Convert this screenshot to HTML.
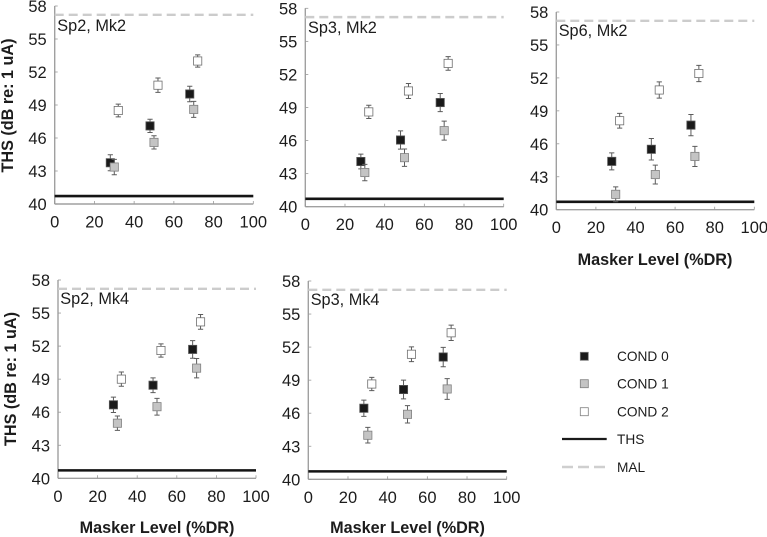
<!DOCTYPE html>
<html lang="en">
<head>
<meta charset="utf-8">
<title>THS vs Masker Level</title>
<style>
  html, body { margin: 0; padding: 0; background: #fff; }
  #figure { display: block; width: 767px; height: 537px; font-family: "Liberation Sans", Arial, sans-serif; filter: blur(0.35px); }
  .tick { font-size: 16.5px; fill: #1c1c1c; }
  .panel-label { font-size: 16.3px; fill: #1c1c1c; }
  .axis-title { font-size: 16.2px; font-weight: bold; fill: #1c1c1c; }
  .legend-text { font-size: 13.7px; fill: #1c1c1c; }
</style>
</head>
<body>
<svg id="figure" xmlns="http://www.w3.org/2000/svg" width="767" height="537" viewBox="0 0 767 537">
  <g id="panels"></g>

  <text class="axis-title" text-anchor="middle" transform="translate(13,105.5) rotate(-90)">THS (dB re: 1 uA)</text>
  <text class="axis-title" text-anchor="middle" transform="translate(16,379) rotate(-90)">THS (dB re: 1 uA)</text>
  <text class="axis-title" text-anchor="middle" x="655" y="265">Masker Level (%DR)</text>
  <text class="axis-title" text-anchor="middle" x="157" y="533">Masker Level (%DR)</text>
  <text class="axis-title" text-anchor="middle" x="407.5" y="533">Masker Level (%DR)</text>

  <g id="legend">
    <g>
      <rect x="580.3" y="352.3" width="8" height="8" fill="#1a1a1a" stroke="#777" stroke-width="0.8"></rect>
      <text class="legend-text" x="617" y="361">COND 0</text>
    </g>
    <g>
      <rect x="580.3" y="379.7" width="8" height="8" fill="#c4c4c4" stroke="#808080" stroke-width="0.8"></rect>
      <text class="legend-text" x="617" y="388.5">COND 1</text>
    </g>
    <g>
      <rect x="580.3" y="407.7" width="8" height="8" fill="#fff" stroke="#808080" stroke-width="0.8"></rect>
      <text class="legend-text" x="617" y="416.5">COND 2</text>
    </g>
    <g>
      <line x1="562" x2="606.7" y1="439" y2="439" stroke="#1a1a1a" stroke-width="2.2"></line>
      <text class="legend-text" x="617" y="444">THS</text>
    </g>
    <g>
      <line x1="562" x2="606.7" y1="467" y2="467" stroke="#cfcfcf" stroke-width="2.4" stroke-dasharray="11,5"></line>
      <text class="legend-text" x="617" y="472">MAL</text>
    </g>
  </g>
</svg>

<script>
// Shared axis data
const xTickValues = [0, 20, 40, 60, 80, 100];
const yTickValues = [40, 43, 46, 49, 52, 55, 58];
const yMin = 40;
const yMax = 58;
const xMin = 0;
const xMax = 100;

// Masker levels for each condition (%DR)
const cond0Levels = [28, 48, 68];
const cond1Levels = [30, 50, 70];
const cond2Levels = [32, 52, 72];

// Reference line values (dB)
const thsLevel = 40.72;
const malLevel = 57.2;

// Sp2, Mk2
const sp2mk2Cond0 = [43.75, 47.1, 50.0];
const sp2mk2Cond0Err = [0.73, 0.6, 0.7];
const sp2mk2Cond1 = [43.36, 45.6, 48.6];
const sp2mk2Cond1Err = [0.7, 0.6, 0.73];
const sp2mk2Cond2 = [48.5, 50.8, 53.0];
const sp2mk2Cond2Err = [0.58, 0.65, 0.56];

// Sp3, Mk2
const sp3mk2Cond0 = [44.1, 46.05, 49.45];
const sp3mk2Cond0Err = [0.67, 0.83, 0.82];
const sp3mk2Cond1 = [43.1, 44.45, 46.9];
const sp3mk2Cond1Err = [0.74, 0.79, 0.86];
const sp3mk2Cond2 = [48.6, 50.5, 53.0];
const sp3mk2Cond2Err = [0.6, 0.68, 0.62];

// Sp6, Mk2
const sp6mk2Cond0 = [44.4, 45.5, 47.7];
const sp6mk2Cond0Err = [0.77, 0.98, 0.97];
const sp6mk2Cond1 = [41.4, 43.2, 44.85];
const sp6mk2Cond1Err = [0.68, 0.86, 0.92];
const sp6mk2Cond2 = [48.1, 50.9, 52.4];
const sp6mk2Cond2Err = [0.67, 0.74, 0.74];

// Sp2, Mk4
const sp2mk4Cond0 = [46.67, 48.45, 51.7];
const sp2mk4Cond0Err = [0.7, 0.67, 0.8];
const sp2mk4Cond1 = [45.0, 46.5, 50.0];
const sp2mk4Cond1Err = [0.65, 0.76, 0.88];
const sp2mk4Cond2 = [49.0, 51.6, 54.2];
const sp2mk4Cond2Err = [0.65, 0.6, 0.67];

// Sp3, Mk4
const sp3mk4Cond0 = [46.45, 48.15, 51.1];
const sp3mk4Cond0Err = [0.74, 0.85, 0.88];
const sp3mk4Cond1 = [44.0, 45.9, 48.2];
const sp3mk4Cond1Err = [0.71, 0.79, 0.94];
const sp3mk4Cond2 = [48.65, 51.35, 53.3];
const sp3mk4Cond2Err = [0.6, 0.67, 0.7];

const SVG_NS = 'http://www.w3.org/2000/svg';
const panelsRoot = document.getElementById('panels');

function svgEl(tag, parent, attrs) {
  const el = document.createElementNS(SVG_NS, tag);
  for (const k in attrs) el.setAttribute(k, attrs[k]);
  parent.appendChild(el);
  return el;
}

function drawSeries(group, seriesName, levels, values, errs, xScale, yScale, fill, edge) {
  const halfMarker = 4.1;
  const halfCap = 2.6;
  values.forEach(function (value, i) {
    const px = xScale(levels[i]);
    const py = yScale(value);
    const top = yScale(value + errs[i]);
    const bottom = yScale(value - errs[i]);

    const errorBar = svgEl('path', group, {
      d: 'M' + px + ' ' + top + 'V' + bottom +
         'M' + (px - halfCap) + ' ' + top + 'H' + (px + halfCap) +
         'M' + (px - halfCap) + ' ' + bottom + 'H' + (px + halfCap),
      stroke: '#5c5c5c', 'stroke-width': 1, fill: 'none'
    });
    
    

    const marker = svgEl('rect', group, {
      x: px - halfMarker, y: py - halfMarker,
      width: halfMarker * 2, height: halfMarker * 2,
      fill: fill, stroke: edge, 'stroke-width': 0.8
    });
    
    
  });
}

function drawPanel(name, label, labelX, labelY, x0, x100, y40, y58, series) {
  const xScale = function (v) { return x0 + (v - xMin) / (xMax - xMin) * (x100 - x0); };
  const yScale = function (v) { return y40 + (v - yMin) / (yMax - yMin) * (y58 - y40); };

  const g = svgEl('g', panelsRoot, {});
  
  

  const yAxis = svgEl('line', g, { x1: x0, x2: x0, y1: y58, y2: y40, stroke: '#a0a0a0', 'stroke-width': 1.4 });
  
  

  const xAxis = svgEl('line', g, { x1: x0, x2: x100, y1: y40, y2: y40, stroke: '#a0a0a0', 'stroke-width': 1.4 });
  
  

  xTickValues.forEach(function (t) {
    const mark = svgEl('line', g, { x1: xScale(t), x2: xScale(t), y1: y40, y2: y40 - 3, stroke: '#999', 'stroke-width': 0.8 });
    
    
    const text = svgEl('text', g, { x: xScale(t), y: y40 + 23.5, 'text-anchor': 'middle', class: 'tick' });
    text.textContent = t;
    
    
  });

  yTickValues.forEach(function (t) {
    const mark = svgEl('line', g, { x1: x0, x2: x0 + 3, y1: yScale(t), y2: yScale(t), stroke: '#999', 'stroke-width': 0.8 });
    
    
    const text = svgEl('text', g, { x: x0 - 8, y: yScale(t) + 6, 'text-anchor': 'end', class: 'tick' });
    text.textContent = t;
    
    
  });

  const mal = svgEl('line', g, { x1: x0, x2: x100, y1: yScale(malLevel), y2: yScale(malLevel), stroke: '#cccccc', 'stroke-width': 2.4, 'stroke-dasharray': '9,5' });
  
  

  const ths = svgEl('line', g, { x1: x0, x2: x100, y1: yScale(thsLevel), y2: yScale(thsLevel), stroke: '#141414', 'stroke-width': 2.6 });
  
  

  const title = svgEl('text', g, { x: labelX, y: labelY, class: 'panel-label' });
  title.textContent = label;
  
  

  drawSeries(g, 'cond-0', cond0Levels, series.c0, series.e0, xScale, yScale, '#1a1a1a', '#555');
  drawSeries(g, 'cond-1', cond1Levels, series.c1, series.e1, xScale, yScale, '#c4c4c4', '#808080');
  drawSeries(g, 'cond-2', cond2Levels, series.c2, series.e2, xScale, yScale, '#ffffff', '#6e6e6e');
}

drawPanel('sp2-mk2', 'Sp2, Mk2', 57.3, 31, 54.7, 253.3, 204, 6,
  { c0: sp2mk2Cond0, e0: sp2mk2Cond0Err, c1: sp2mk2Cond1, e1: sp2mk2Cond1Err, c2: sp2mk2Cond2, e2: sp2mk2Cond2Err });
drawPanel('sp3-mk2', 'Sp3, Mk2', 308, 33, 305.3, 503.7, 206.7, 8.3,
  { c0: sp3mk2Cond0, e0: sp3mk2Cond0Err, c1: sp3mk2Cond1, e1: sp3mk2Cond1Err, c2: sp3mk2Cond2, e2: sp3mk2Cond2Err });
drawPanel('sp6-mk2', 'Sp6, Mk2', 558.7, 36, 556.3, 754.3, 209.7, 12,
  { c0: sp6mk2Cond0, e0: sp6mk2Cond0Err, c1: sp6mk2Cond1, e1: sp6mk2Cond1Err, c2: sp6mk2Cond2, e2: sp6mk2Cond2Err });
drawPanel('sp2-mk4', 'Sp2, Mk4', 60.3, 304, 58, 256, 478.3, 280,
  { c0: sp2mk4Cond0, e0: sp2mk4Cond0Err, c1: sp2mk4Cond1, e1: sp2mk4Cond1Err, c2: sp2mk4Cond2, e2: sp2mk4Cond2Err });
drawPanel('sp3-mk4', 'Sp3, Mk4', 310.7, 305, 308.3, 506.7, 479.3, 281,
  { c0: sp3mk4Cond0, e0: sp3mk4Cond0Err, c1: sp3mk4Cond1, e1: sp3mk4Cond1Err, c2: sp3mk4Cond2, e2: sp3mk4Cond2Err });
</script>
</body>
</html>
